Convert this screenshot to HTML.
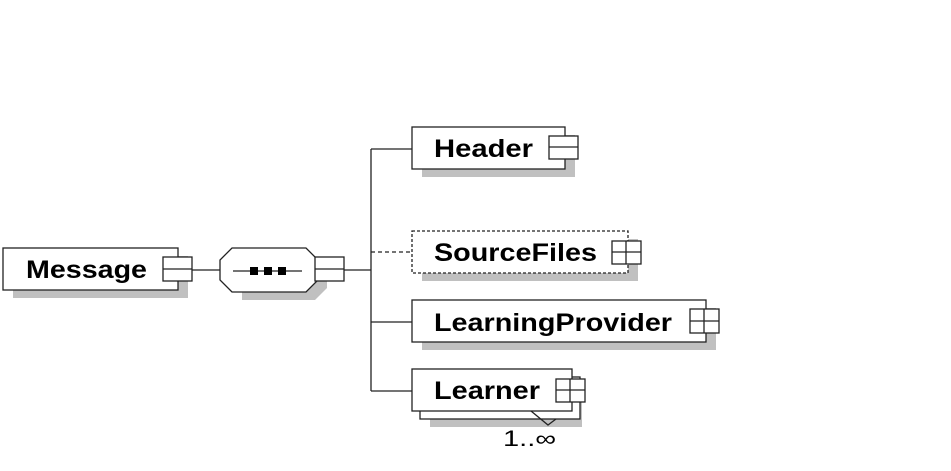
<!DOCTYPE html>
<html><head><style>body{margin:0;background:#fff}</style></head><body>
<svg width="951" height="466" xmlns="http://www.w3.org/2000/svg" font-family="Liberation Sans, sans-serif">
<g fill="#c0c0c0">
<rect x="13" y="256" width="175" height="42"/>
<polygon points="242,258 320,258 327,265 327,288 315,300 242,300"/>
<rect x="422" y="135" width="153" height="42"/>
<rect x="422" y="239" width="216" height="42"/>
<rect x="422" y="308" width="294" height="42"/>
<rect x="430" y="385" width="152" height="42"/>
</g>
<g stroke="#222" stroke-width="1.3" fill="none">
<line x1="192" y1="270" x2="220" y2="270"/>
<line x1="344" y1="270" x2="371" y2="270"/>
<line x1="371" y1="149" x2="371" y2="391"/>
<line x1="371" y1="149" x2="412" y2="149"/>
<line x1="371" y1="252" x2="412" y2="252" stroke-dasharray="4,3"/>
<line x1="371" y1="322" x2="412" y2="322"/>
<line x1="371" y1="391" x2="412" y2="391"/>
</g>
<g stroke="#222" stroke-width="1.3" fill="#fff">
<rect x="3" y="248" width="175" height="42"/>
<rect x="163" y="257" width="29" height="24"/>
<polygon points="232,248 306,248 318,260 318,280 306,292 232,292 220,280 220,260"/>
<rect x="315" y="257" width="29" height="24"/>
<rect x="412" y="127" width="153" height="42"/>
<rect x="549" y="136" width="29" height="23"/>
<rect x="412" y="231" width="216" height="42" stroke-dasharray="3,2"/>
<rect x="612" y="241" width="29" height="23"/>
<rect x="412" y="300" width="294" height="42"/>
<rect x="690" y="309" width="29" height="24"/>
<rect x="420" y="377" width="160" height="42"/>
<rect x="412" y="369" width="160" height="42"/>
<rect x="556" y="379" width="29" height="23"/>
</g>
<g stroke="#222" stroke-width="1.3" fill="none">
<line x1="163" y1="269" x2="192" y2="269"/>
<line x1="315" y1="269" x2="344" y2="269"/>
<line x1="233" y1="271" x2="302" y2="271"/>
<line x1="549" y1="147" x2="578" y2="147"/>
<line x1="612" y1="252" x2="641" y2="252"/><line x1="626" y1="241" x2="626" y2="264"/>
<line x1="690" y1="321" x2="719" y2="321"/><line x1="704" y1="309" x2="704" y2="333"/>
<line x1="556" y1="390" x2="585" y2="390"/><line x1="570" y1="379" x2="570" y2="402"/>
<polyline points="531,411 548,425 556,419"/>
</g>
<g fill="#000">
<rect x="250" y="267" width="8" height="8"/><rect x="264" y="267" width="8" height="8"/><rect x="278" y="267" width="8" height="8"/>
</g>
<g font-weight="bold" font-size="25" fill="#000" lengthAdjust="spacingAndGlyphs">
<text x="26" y="278" textLength="121" lengthAdjust="spacingAndGlyphs">Message</text>
<text x="434" y="157" textLength="99" lengthAdjust="spacingAndGlyphs">Header</text>
<text x="434" y="261" textLength="163" lengthAdjust="spacingAndGlyphs">SourceFiles</text>
<text x="434" y="331" textLength="238" lengthAdjust="spacingAndGlyphs">LearningProvider</text>
<text x="434" y="399" textLength="106" lengthAdjust="spacingAndGlyphs">Learner</text>
</g>
<text x="503" y="446" font-size="22" fill="#000" textLength="53" lengthAdjust="spacingAndGlyphs">1..∞</text>
</svg>
</body></html>
